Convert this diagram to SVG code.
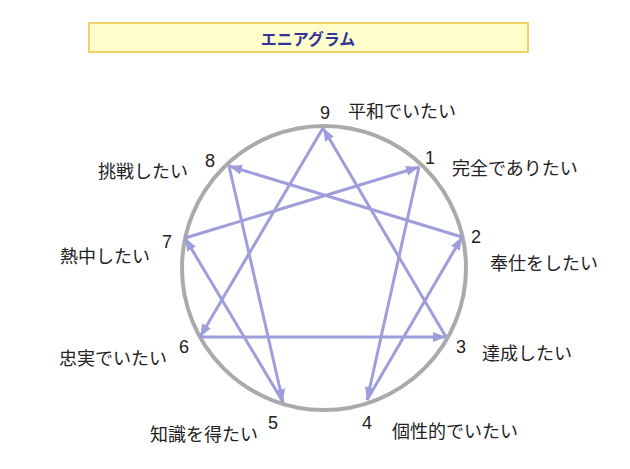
<svg xmlns="http://www.w3.org/2000/svg" width="630" height="469" viewBox="0 0 630 469">
<style>
.num{font-family:"Liberation Sans",Arial,sans-serif;font-size:18px;fill:#222}
.lbl{font-family:"Noto Sans CJK JP","Noto Sans",sans-serif;font-size:18px;fill:#222}
.title{font-family:"Noto Sans CJK JP",sans-serif;font-size:16px;font-weight:bold;fill:#333399}
.edge{stroke:#9e9edc;stroke-width:3;fill:none;marker-end:url(#ah)}
</style>
<defs>
<marker id="ah" markerUnits="userSpaceOnUse" markerWidth="14" markerHeight="12" refX="13" refY="5" orient="auto">
<path d="M0,0 L13,5 L0,10 z" fill="#9e9edc"/>
</marker>
</defs>
<rect width="630" height="469" fill="#ffffff"/>
<g id="title">
<rect x="89" y="23" width="439" height="29" fill="#ffffcc" stroke="#f3d26a" stroke-width="2"/>
<text class="title" x="308" y="45" text-anchor="middle">エニアグラム</text>
</g>
<g id="circle">
<circle cx="324" cy="268" r="142" fill="none" stroke="#aaaaaa" stroke-width="4"/>
</g>
<g id="connectors">
<line class="edge" x1="323" y1="128" x2="200" y2="337"/>
<line class="edge" x1="200" y1="337" x2="446" y2="337"/>
<line class="edge" x1="446" y1="337" x2="323" y2="128"/>
<line class="edge" x1="419" y1="167" x2="367" y2="400"/>
<line class="edge" x1="367" y1="400" x2="462" y2="237"/>
<line class="edge" x1="462" y1="237" x2="229" y2="166"/>
<line class="edge" x1="229" y1="166" x2="283" y2="402"/>
<line class="edge" x1="283" y1="402" x2="185" y2="238"/>
<line class="edge" x1="185" y1="238" x2="419" y2="167"/>
</g>
<g id="node9"><text class="num" x="320" y="119">9</text><text class="lbl" x="348" y="118">平和でいたい</text></g>
<g id="node1"><text class="num" x="425" y="164">1</text><text class="lbl" x="452" y="175">完全でありたい</text></g>
<g id="node2"><text class="num" x="471" y="243">2</text><text class="lbl" x="490" y="270">奉仕をしたい</text></g>
<g id="node3"><text class="num" x="456" y="353">3</text><text class="lbl" x="482" y="360">達成したい</text></g>
<g id="node4"><text class="num" x="362" y="429">4</text><text class="lbl" x="392" y="438">個性的でいたい</text></g>
<g id="node5"><text class="num" x="268" y="429">5</text><text class="lbl" x="150" y="441">知識を得たい</text></g>
<g id="node6"><text class="num" x="179" y="353">6</text><text class="lbl" x="59" y="365">忠実でいたい</text></g>
<g id="node7"><text class="num" x="162" y="248">7</text><text class="lbl" x="60" y="263">熱中したい</text></g>
<g id="node8"><text class="num" x="205" y="167">8</text><text class="lbl" x="98" y="178">挑戦したい</text></g>
</svg>
